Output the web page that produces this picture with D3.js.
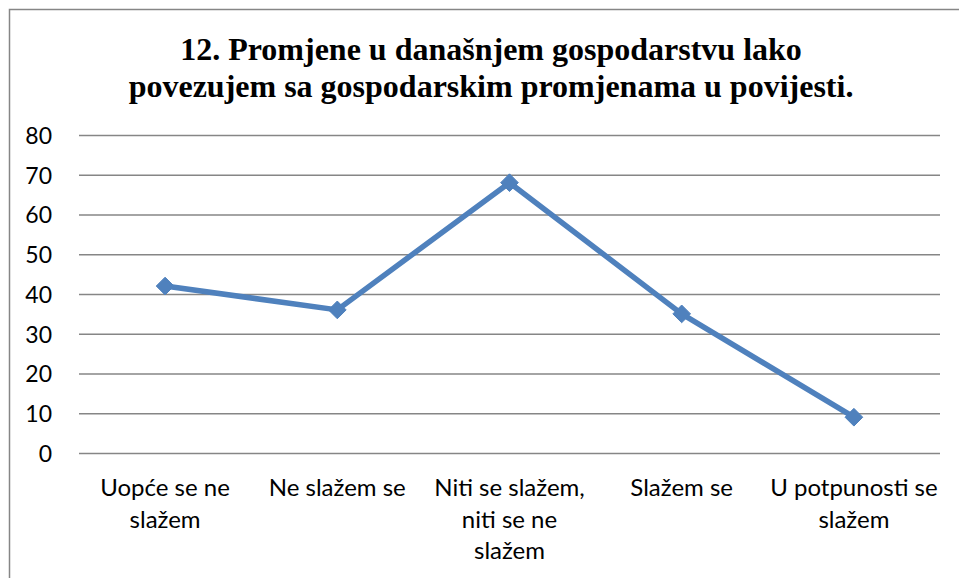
<!DOCTYPE html>
<html>
<head>
<meta charset="utf-8">
<script src="https://cdn.jsdelivr.net/npm/d3@7"></script>
<style>
  body { margin: 0; background: #fff; }
  .title { font-family: "Liberation Serif", "Times New Roman", serif; font-weight: bold; font-size: 32px; }
  .axis text { font-family: Lato, "Open Sans", sans-serif; font-size: 23px; fill: #000; }
  .x-axis text { font-size: 24px; }
</style>
</head>
<body>
<svg id="chart"></svg>
<script>
// Chart data
const categories = ['Uopće se ne slažem', 'Ne slažem se', 'Niti se slažem, niti se ne slažem', 'Slažem se', 'U potpunosti se slažem'];
const categoryLines = [
  ['Uopće se ne', 'slažem'],
  ['Ne slažem se'],
  ['Niti se slažem,', 'niti se ne', 'slažem'],
  ['Slažem se'],
  ['U potpunosti se', 'slažem']
];
const values = [42, 36, 68, 35, 9];
const yTicks = [0, 10, 20, 30, 40, 50, 60, 70, 80];
const titleLines = ['12. Promjene u današnjem gospodarstvu lako', 'povezujem sa gospodarskim promjenama u povijesti.'];

const width = 959, height = 578;
const margin = {top: 135, right: 19, bottom: 125, left: 79};
const innerW = width - margin.left - margin.right;
const innerH = height - margin.top - margin.bottom;

const svg = d3.select('#chart')
    .attr('width', width)
    .attr('height', height);

// chart area border (only top and left edges are visible)
svg.append('rect')
    .attr('x', 9.5)
    .attr('y', 9.5)
    .attr('width', width + 20)
    .attr('height', height + 20)
    .attr('fill', 'none')
    .attr('stroke', '#868686')
    .attr('stroke-width', 1.5);

// Title
svg.append('text')
    .attr('class', 'title')
    .attr('text-anchor', 'middle')
    .selectAll('tspan')
    .data(titleLines)
    .enter()
  .append('tspan')
    .attr('x', 491)
    .attr('y', (d, i) => 60 + i * 37)
    .text(d => d);

const chart = svg.append('g')
    .attr('transform', `translate(${margin.left},${margin.top})`);

const xScale = d3.scaleBand()
    .domain(categories)
    .range([0, innerW]);

const yScale = d3.scaleLinear()
    .domain([0, 80])
    .range([innerH, 0]);

// gridlines + y labels
const yAxis = d3.axisLeft(yScale)
    .tickValues(yTicks)
    .tickSize(-innerW)
    .tickPadding(27);

chart.append('g')
    .attr('class', 'axis y-axis')
    .call(yAxis)
    .call(g => g.select('.domain').remove())
    .call(g => g.selectAll('.tick line').attr('stroke', '#868686').attr('stroke-width', 1.5))
    .call(g => g.selectAll('.tick text').attr('dy', '0.36em'));

// x labels
const xAxis = d3.axisBottom(xScale)
    .tickSize(0)
    .tickFormat('');

const xAxisG = chart.append('g')
    .attr('class', 'axis x-axis')
    .attr('transform', `translate(0,${innerH})`)
    .call(xAxis)
    .call(g => g.select('.domain').remove());

xAxisG.selectAll('.tick text')
    .attr('dy', null)
    .each(function(d, i) {
      d3.select(this).selectAll('tspan')
          .data(categoryLines[i])
          .enter()
        .append('tspan')
          .attr('x', 0)
          .attr('y', (l, j) => 43 + j * 31.5)
          .text(l => l);
    });

const xPos = (d, i) => xScale(categories[i]) + xScale.bandwidth() / 2;

// series line
const line = d3.line()
    .x(xPos)
    .y(d => yScale(d));

chart.append('path')
    .datum(values)
    .attr('fill', 'none')
    .attr('stroke', '#4F81BD')
    .attr('stroke-width', 5.5)
    .attr('stroke-linejoin', 'round')
    .attr('d', line);

// diamond markers
chart.selectAll('.point')
    .data(values)
    .enter()
  .append('path')
    .attr('class', 'point')
    .attr('d', d3.symbol(d3.symbolDiamond2, 200))
    .attr('transform', (d, i) => `translate(${xPos(d, i)},${yScale(d)})`)
    .attr('fill', '#4F81BD')
    .attr('stroke', '#4F81BD')
    .attr('stroke-width', 1);
</script>
</body>
</html>
